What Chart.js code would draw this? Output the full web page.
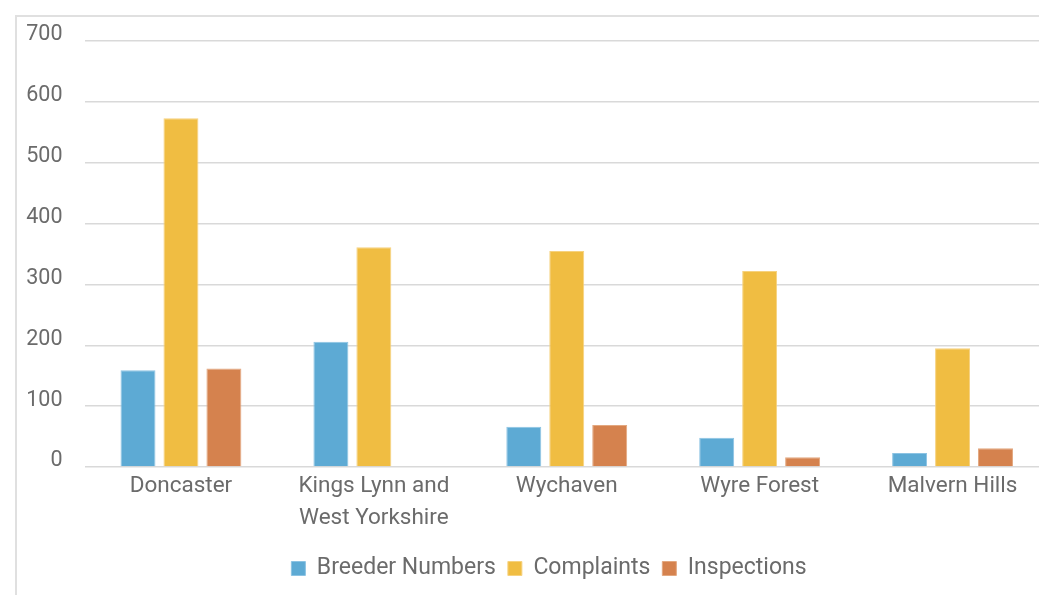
<!DOCTYPE html>
<html>
<head>
<meta charset="utf-8">
<script src="https://cdn.jsdelivr.net/npm/chart.js@4"></script>
<style>
  html, body { margin: 0; padding: 0; width: 1039px; height: 595px; overflow: hidden; background: #fff; }
  #frame { position: absolute; left: 15px; top: 15px; width: 1200px; height: 800px;
           border-left: 2px solid #e0e0e0; border-top: 2px solid #e0e0e0; }
  #c { position: absolute; left: 0; top: 0; }
</style>
</head>
<body>
<div id="frame"></div>
<canvas id="c" width="1050" height="595" style="width:1050px;height:595px"></canvas>
<script>
const categories = ['Doncaster', ['Kings Lynn and', 'West Yorkshire'], 'Wychaven', 'Wyre Forest', 'Malvern Hills'];
const breederNumbers = [159, 206, 66, 48, 23];
const complaints = [573, 361, 355, 322, 195];
const inspections = [162, 0, 69, 16, 31];
const yTicks = [0, 100, 200, 300, 400, 500, 600, 700];

const FONT = 'Roboto, "DejaVu Sans", sans-serif';
const TEXT = '#6b6b6b';

const shiftLegend = {
  id: 'shiftLegend',
  afterLayout(chart) { if (chart.legend) chart.legend.left += 31; }
};

new Chart(document.getElementById('c'), {
  type: 'bar',
  data: {
    labels: categories,
    datasets: [
      { label: 'Breeder Numbers', data: breederNumbers, backgroundColor: '#5DAAD4', borderColor: '#8cc3e3', borderWidth: 1 },
      { label: 'Complaints', data: complaints, backgroundColor: '#F0BD42', borderColor: '#f6d27f', borderWidth: 1 },
      { label: 'Inspections', data: inspections, backgroundColor: '#D5824E', borderColor: '#e3a880', borderWidth: 1 }
    ]
  },
  plugins: [shiftLegend],
  options: {
    responsive: false,
    animation: false,
    devicePixelRatio: 1,
    layout: { padding: { left: 18, right: 1, top: 41, bottom: 5 } },
    datasets: { bar: { categoryPercentage: 0.668, barPercentage: 0.814 } },
    plugins: {
      tooltip: { enabled: false },
      legend: {
        position: 'bottom',
        labels: {
          boxWidth: 14, boxHeight: 14, padding: 12,
          color: TEXT,
          font: { family: FONT, size: 23 }
        }
      }
    },
    scales: {
      x: {
        grid: { display: false, drawTicks: false },
        border: { display: false },
        ticks: {
          color: TEXT, padding: 3, maxRotation: 0, autoSkip: false,
          font: { family: FONT, size: 22.5, lineHeight: 1.42 }
        },
        afterFit: (s) => { s.height = 78; }
      },
      y: {
        min: 0, max: 700,
        afterBuildTicks: (s) => { s.ticks = yTicks.map(v => ({ value: v })); },
        grid: { color: '#d9d9d9', lineWidth: 1.5, drawTicks: false },
        border: { display: false },
        ticks: {
          color: TEXT, padding: 22, labelOffset: -6,
          font: { family: FONT, size: 21.5 }
        },
        afterFit: (s) => { s.width = 66.5; }
      }
    }
  }
});
</script>
</body>
</html>
